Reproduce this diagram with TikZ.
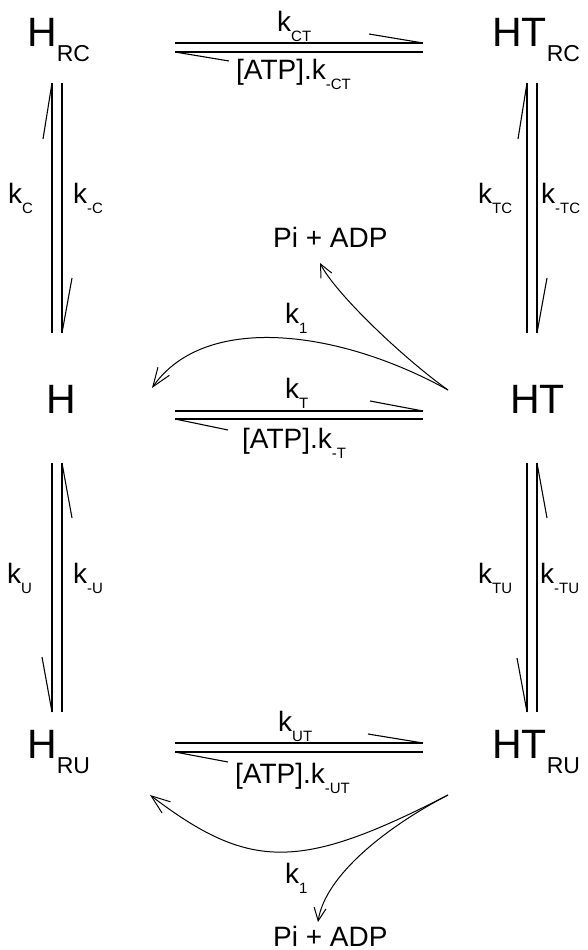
\documentclass[tikz,border=0pt]{standalone}
\usepackage{fontspec}
\setmainfont{Liberation Sans}
\usetikzlibrary{arrows.meta}
\newcommand{\spc}[2]{{\fontsize{41}{41}\selectfont #1}\raisebox{-15pt}{\fontsize{23}{23}\selectfont #2}}
\newcommand{\rt}[2]{{\fontsize{28}{28}\selectfont #1}\raisebox{-10pt}{\fontsize{15}{15}\selectfont #2}}
\begin{document}
\begin{tikzpicture}[x=1pt,y=-1pt,
  lbl/.style={inner sep=0pt, anchor=base west},
  rx/.style={line width=1.6pt},
  barb/.style={line width=1.1pt},
  cur/.style={line width=1pt, -{Straight Barb[length=19pt,width=14pt,line width=1pt]}},
  curs/.style={line width=1pt, -{Straight Barb[length=13pt,width=12pt,line width=1pt]}}]
\useasboundingbox[fill=white] (0,0) rectangle (588,950);
% species
\node[lbl] (HRC) at (27,47) {\spc{H}{RC}};
\node[lbl] (HTRC) at (492,47) {\spc{HT}{RC}};
\node[lbl] (H) at (46,413) {\fontsize{41}{41}\selectfont H};
\node[lbl] (HT) at (510,413) {\fontsize{41}{41}\selectfont HT};
\node[lbl] (HRU) at (27,758) {\spc{H}{RU}};
\node[lbl] (HTRU) at (492,758) {\spc{HT}{RU}};
% rate labels
\node[lbl] (kCT) at (277,32) {\rt{k}{CT}};
\node[lbl] (kmCT) at (236,79) {\rt{[ATP].k}{-CT}};
\node[lbl] (kC) at (8,203) {\rt{k}{C}};
\node[lbl] (kmC) at (73,203) {\rt{k}{-C}};
\node[lbl] (kTC) at (478,203) {\rt{k}{TC}};
\node[lbl] (kmTC) at (541,203) {\rt{k}{-TC}};
\node[lbl] (PiA) at (273,247) {\fontsize{28}{28}\selectfont Pi + ADP};
\node[lbl] (k1a) at (285,323) {\rt{k}{1}};
\node[lbl] (kT) at (285,398) {\rt{k}{T}};
\node[lbl] (kmT) at (242,448) {\rt{[ATP].k}{-T}};
\node[lbl] (kU) at (7,583) {\rt{k}{U}};
\node[lbl] (kmU) at (73,583) {\rt{k}{-U}};
\node[lbl] (kTU) at (478,583) {\rt{k}{TU}};
\node[lbl] (kmTU) at (540,583) {\rt{k}{-TU}};
\node[lbl] (kUT) at (278,731) {\rt{k}{UT}};
\node[lbl] (kmUT) at (235,783) {\rt{[ATP].k}{-UT}};
\node[lbl] (k1b) at (285,883) {\rt{k}{1}};
\node[lbl] (PiB) at (273,946) {\fontsize{28}{28}\selectfont Pi + ADP};
% top horizontal harpoons
\coordinate (a1) at (175,43); \coordinate (a2) at (423,43); \coordinate (a3) at (369,34);
\coordinate (a4) at (175,52); \coordinate (a5) at (423,52); \coordinate (a6) at (229,61);
\draw[rx] (a1) -- (a2); \draw[barb] (a2) -- (a3);
\draw[rx] (a4) -- (a5); \draw[barb] (a4) -- (a6);
% middle horizontal harpoons
\coordinate (b1) at (175,411); \coordinate (b2) at (423,411); \coordinate (b3) at (370,401);
\coordinate (b4) at (175,419); \coordinate (b5) at (423,419); \coordinate (b6) at (228,430);
\draw[rx] (b1) -- (b2); \draw[barb] (b2) -- (b3);
\draw[rx] (b4) -- (b5); \draw[barb] (b4) -- (b6);
% bottom horizontal harpoons
\coordinate (c1) at (175,743); \coordinate (c2) at (423,743); \coordinate (c3) at (368,734);
\coordinate (c4) at (175,752); \coordinate (c5) at (423,752); \coordinate (c6) at (228,762);
\draw[rx] (c1) -- (c2); \draw[barb] (c2) -- (c3);
\draw[rx] (c4) -- (c5); \draw[barb] (c4) -- (c6);
% top-left vertical
\coordinate (d1) at (52,83); \coordinate (d2) at (52,333); \coordinate (d3) at (43,139);
\coordinate (d4) at (62,83); \coordinate (d5) at (62,333); \coordinate (d6) at (72,278);
\draw[rx] (d1) -- (d2); \draw[barb] (d1) -- (d3);
\draw[rx] (d4) -- (d5); \draw[barb] (d5) -- (d6);
% top-right vertical
\coordinate (e1) at (527,83); \coordinate (e2) at (527,333); \coordinate (e3) at (518,139);
\coordinate (e4) at (537,83); \coordinate (e5) at (537,333); \coordinate (e6) at (547,278);
\draw[rx] (e1) -- (e2); \draw[barb] (e1) -- (e3);
\draw[rx] (e4) -- (e5); \draw[barb] (e5) -- (e6);
% bottom-left vertical
\coordinate (f1) at (52,463); \coordinate (f2) at (52,712); \coordinate (f3) at (42,657);
\coordinate (f4) at (62,463); \coordinate (f5) at (62,712); \coordinate (f6) at (72,518);
\draw[rx] (f1) -- (f2); \draw[barb] (f2) -- (f3);
\draw[rx] (f4) -- (f5); \draw[barb] (f4) -- (f6);
% bottom-right vertical
\coordinate (g1) at (527,463); \coordinate (g2) at (527,712); \coordinate (g3) at (517,658);
\coordinate (g4) at (537,463); \coordinate (g5) at (537,712); \coordinate (g6) at (547,518);
\draw[rx] (g1) -- (g2); \draw[barb] (g2) -- (g3);
\draw[rx] (g4) -- (g5); \draw[barb] (g4) -- (g6);
% hydrolysis curves
\coordinate (ua) at (448,390); \coordinate (ub) at (152,388); \coordinate (uc) at (320,263);
\draw[cur] (ua) .. controls (340,330) and (205,312) .. (ub);
\draw[curs] (ua) .. controls (403,358) and (335,293) .. (uc);
\coordinate (la) at (448,795); \coordinate (lb) at (150,795); \coordinate (lc) at (318,922);
\draw[cur] (la) .. controls (300,871) and (250,871) .. (lb);
\draw[curs] (la) .. controls (388,826) and (325,875) .. (lc);
\end{tikzpicture}
\end{document}
